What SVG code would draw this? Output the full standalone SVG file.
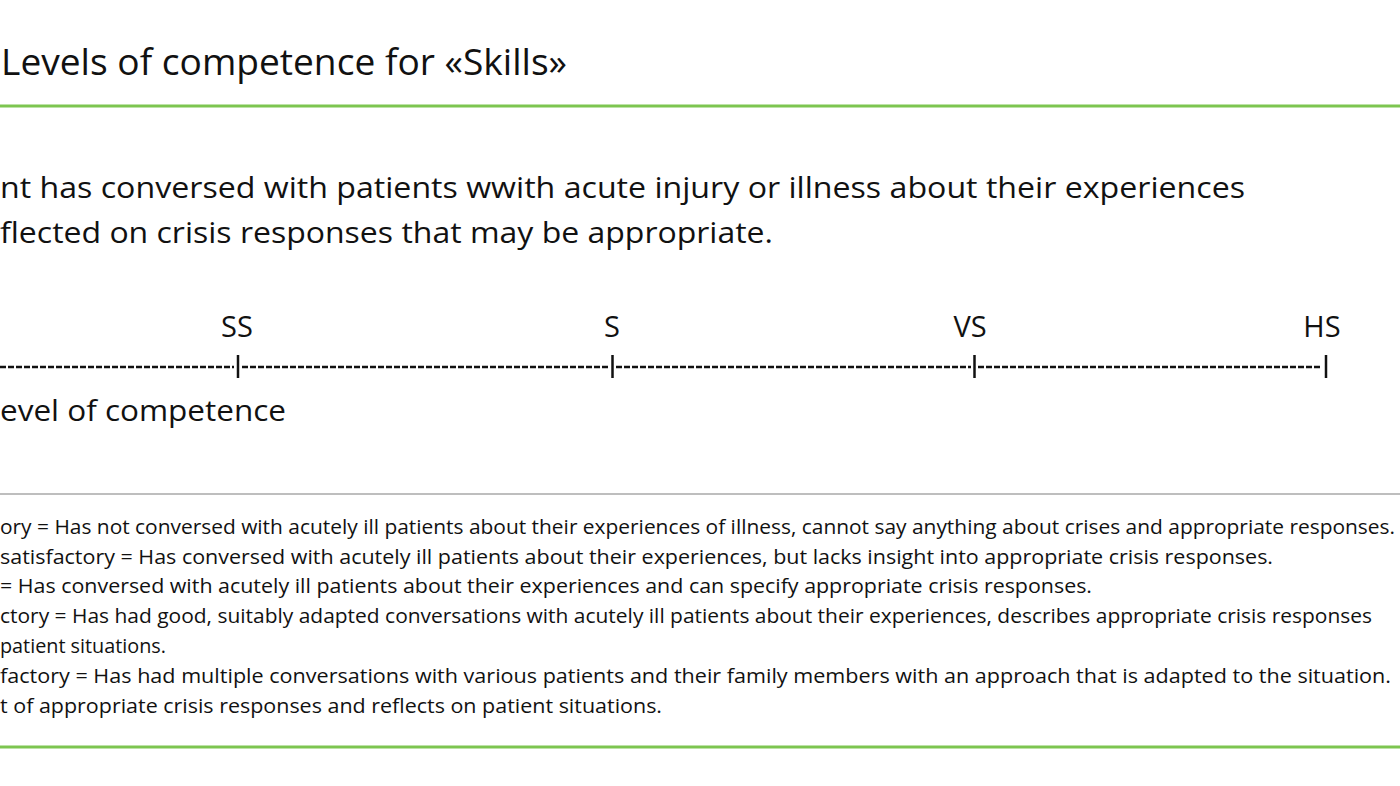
<svg xmlns="http://www.w3.org/2000/svg" width="1400" height="786" viewBox="0 0 1400 786">
<style>
text{font-family:"Open Sans","Liberation Sans",sans-serif;fill:#111}
.t{font-size:36px}.p{font-size:30px}.s{font-size:29px}.f{font-size:19.5px}
</style>
<rect width="1400" height="786" fill="#fff"/>
<g id="title"><text class="t" x="1" y="75" textLength="566" lengthAdjust="spacingAndGlyphs">Levels of competence for «Skills»</text></g>
<g id="rules">
<line x1="0" y1="106" x2="1400" y2="106" stroke="#7dc550" stroke-width="3"/>
<line x1="0" y1="494" x2="1400" y2="494" stroke="#a8a8a8" stroke-width="1.5"/>
<line x1="0" y1="747" x2="1400" y2="747" stroke="#7dc550" stroke-width="3"/>
</g>
<g id="statement">
<text class="p" x="0" y="198" textLength="1245" lengthAdjust="spacingAndGlyphs">nt has conversed with patients wwith acute injury or illness about their experiences</text>
<text class="p" x="0" y="243" textLength="773" lengthAdjust="spacingAndGlyphs">flected on crisis responses that may be appropriate.</text>
</g>
<g id="scale">
<text class="s" x="237" y="337" text-anchor="middle">SS</text>
<text class="s" x="612" y="337" text-anchor="middle">S</text>
<text class="s" x="970" y="337" text-anchor="middle">VS</text>
<text class="s" x="1322" y="337" text-anchor="middle">HS</text>
<g stroke="#111" stroke-width="2.5" stroke-dasharray="6 2">
<line x1="0" y1="367" x2="234" y2="367"/>
<line x1="242" y1="367" x2="609" y2="367"/>
<line x1="616" y1="367" x2="971" y2="367"/>
<line x1="978" y1="367" x2="1322" y2="367"/>
</g>
<g stroke="#111" stroke-width="2.5">
<line x1="238" y1="355" x2="238" y2="378"/>
<line x1="612.5" y1="355" x2="612.5" y2="378"/>
<line x1="974.5" y1="355" x2="974.5" y2="378"/>
<line x1="1326" y1="355" x2="1326" y2="378"/>
</g>
<text class="p" x="0" y="421" textLength="286" lengthAdjust="spacingAndGlyphs">evel of competence</text>
</g>
<g id="footnotes">
<text class="f" x="0" y="534" textLength="1395" lengthAdjust="spacingAndGlyphs">ory = Has not conversed with acutely ill patients about their experiences of illness, cannot say anything about crises and appropriate responses.</text>
<text class="f" x="0" y="564" textLength="1273" lengthAdjust="spacingAndGlyphs">satisfactory = Has conversed with acutely ill patients about their experiences, but lacks insight into appropriate crisis responses.</text>
<text class="f" x="0" y="593" textLength="1092" lengthAdjust="spacingAndGlyphs">= Has conversed with acutely ill patients about their experiences and can specify appropriate crisis responses.</text>
<text class="f" x="0" y="623" textLength="1372" lengthAdjust="spacingAndGlyphs">ctory = Has had good, suitably adapted conversations with acutely ill patients about their experiences, describes appropriate crisis responses</text>
<text class="f" x="0" y="653" textLength="166" lengthAdjust="spacingAndGlyphs">patient situations.</text>
<text class="f" x="0" y="683" textLength="1391" lengthAdjust="spacingAndGlyphs">factory = Has had multiple conversations with various patients and their family members with an approach that is adapted to the situation.</text>
<text class="f" x="0" y="713" textLength="662" lengthAdjust="spacingAndGlyphs">t of appropriate crisis responses and reflects on patient situations.</text>
</g>
</svg>
